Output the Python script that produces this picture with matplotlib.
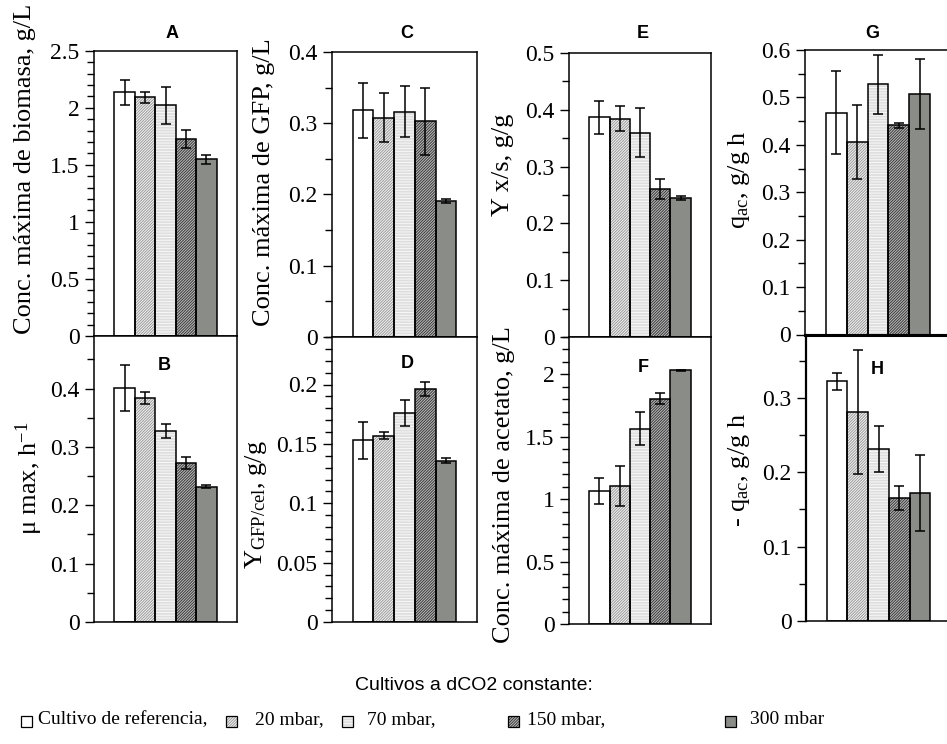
import matplotlib
matplotlib.use("Agg")
import matplotlib.pyplot as plt
from matplotlib.patches import Rectangle
from matplotlib.ticker import MultipleLocator, FuncFormatter

# ---- data ----------------------------------------------------------------
conditions = ["Cultivo de referencia,", "20 mbar,", "70 mbar,", "150 mbar,", "300 mbar"]

biomasa_max = [2.135, 2.09, 2.02, 1.725, 1.55]
biomasa_err = [0.11, 0.045, 0.165, 0.078, 0.04]

mu_max = [0.401, 0.384, 0.327, 0.272, 0.232]
mu_err = [0.04, 0.01, 0.012, 0.01, 0.003]

gfp_max = [0.318, 0.308, 0.316, 0.303, 0.191]
gfp_err = [0.039, 0.034, 0.036, 0.047, 0.003]

y_gfp_cel = [0.153, 0.157, 0.176, 0.196, 0.136]
y_gfp_cel_err = [0.0155, 0.003, 0.011, 0.006, 0.002]

y_xs = [0.387, 0.384, 0.360, 0.261, 0.245]
y_xs_err = [0.029, 0.022, 0.043, 0.018, 0.004]

acetato_max = [1.068, 1.108, 1.565, 1.805, 2.034]
acetato_err = [0.103, 0.159, 0.13, 0.045, 0.005]

q_ac = [0.468, 0.405, 0.528, 0.441, 0.508]
q_ac_err = [0.088, 0.078, 0.062, 0.006, 0.074]

q_ac_cons = [0.322, 0.281, 0.231, 0.165, 0.172]
q_ac_cons_err = [0.011, 0.083, 0.031, 0.016, 0.051]

# ---- style ---------------------------------------------------------------
plt.rcParams["font.family"] = ["Liberation Serif", "DejaVu Serif"]
plt.rcParams["mathtext.fontset"] = "custom"
plt.rcParams["mathtext.rm"] = "Liberation Serif"
plt.rcParams["mathtext.it"] = "Liberation Serif:italic"
plt.rcParams["hatch.linewidth"] = 0.7

# fill colour, hatch colour, hatch pattern for each condition
bar_styles = [
    ("white", "white", None),
    ("#f4f4f4", "#9a9a9a", "////////////"),
    ("#dedede", "#f8f8f8", "------"),
    ("#3a3a3a", "#bdbdbd", "////////////"),
    ("#8a8c88", "#8a8c88", None),
]

W, H = 947, 744
fig = plt.figure(figsize=(W / 100, H / 100), dpi=100)


def px_box(x0, x1, y0, y1):
    return [x0 / W, 1 - y1 / H, (x1 - x0) / W, (y1 - y0) / H]


def fx(x):
    return x / W


def fy(y):
    return 1 - y / H


fmt = FuncFormatter(lambda v, p: "%g" % round(v, 4))

panels = [
    # letter, values, errors, ylim top, major, minor, ylabel, box, ylabel pos, letter pos
    ("A", biomasa_max, biomasa_err, 2.5, 0.5, 0.1, "Conc. máxima de biomasa, g/L",
     (94, 237, 50.7, 336), (25, 169), (172, 33)),
    ("B", mu_max, mu_err, 0.49, 0.1, 0.05, r"μ max, h$^{\mathrm{-1}}$",
     (94, 237, 336, 622), (29, 478), (164, 366)),
    ("C", gfp_max, gfp_err, 0.4, 0.1, 0.05, "Conc. máxima de GFP, g/L",
     (332, 477, 52, 337), (264, 182), (407, 33)),
    ("D", y_gfp_cel, y_gfp_cel_err, 0.24, 0.05, 0.01, r"Y$_{\mathrm{GFP/cel}}$, g/g",
     (332, 477, 337, 622), (256, 505), (407, 363)),
    ("E", y_xs, y_xs_err, 0.5, 0.1, 0.05, "Y x/s, g/g",
     (569, 711, 53, 337), (503, 165), (643, 33)),
    ("F", acetato_max, acetato_err, 2.3, 0.5, 0.1, "Conc. máxima de acetato, g/L",
     (569, 711, 337, 624), (504, 485), (643, 367)),
    ("G", q_ac, q_ac_err, 0.6, 0.1, 0.05, r"q$_{\mathrm{ac}}$, g/g h",
     (805, 951, 50, 334.5), (739, 180), (872, 33)),
    ("H", q_ac_cons, q_ac_cons_err, 0.385, 0.1, 0.05, r"- q$_{\mathrm{ac}}$, g/g h",
     (806, 951, 334.5, 621), (739, 470), (877, 369)),
]

x = list(range(len(conditions)))

for (letter, vals, errs, ytop, major, minor, ylabel, bx, lpos, tpos) in panels:
    ax = fig.add_axes(px_box(*bx))
    for i, (v, (fc, hc, hatch)) in enumerate(zip(vals, bar_styles)):
        ax.bar(x[i], v, width=1.0, color=fc, edgecolor=hc, hatch=hatch,
               linewidth=0, zorder=2)
        ax.bar(x[i], v, width=1.0, fill=False, edgecolor="black",
               linewidth=1.1, zorder=3)
    ax.errorbar(x, vals, yerr=errs, fmt="none", ecolor="black",
                elinewidth=1.1, capsize=3.6, capthick=1.1, zorder=4)
    ax.set_xlim(-1.5, 5.5)
    ax.set_ylim(0, ytop)
    ax.set_xticks([])
    ax.yaxis.set_major_locator(MultipleLocator(major))
    ax.yaxis.set_minor_locator(MultipleLocator(minor))
    ax.yaxis.set_major_formatter(fmt)
    ax.tick_params(axis="y", which="major", direction="out", length=6.5,
                   width=1.0, labelsize=17, pad=4)
    ax.tick_params(axis="y", which="minor", direction="out", length=5,
                   width=1.0)
    for s in ax.spines.values():
        s.set_linewidth(1.1)
    if letter == "G":
        ax.spines["bottom"].set_linewidth(2.2)
    if letter == "H":
        ax.spines["top"].set_linewidth(2.2)
        ax.spines["left"].set_linewidth(1.6)
    fig.text(fx(lpos[0]), fy(lpos[1]), ylabel, rotation=90, fontsize=19,
             ha="center", va="center")
    fig.text(fx(tpos[0]), fy(tpos[1]), letter, fontsize=13, fontweight="bold",
             family=["Liberation Sans", "DejaVu Sans"], ha="center", va="center")

# ---- legend --------------------------------------------------------------
fig.text(fx(474), fy(686), "Cultivos a dCO2 constante:", fontsize=14,
         family=["Liberation Sans", "DejaVu Sans"], ha="center", va="center")

square_x = [21, 226, 342, 508, 725]
text_x = [38, 255, 367, 527, 750]
sq = 11
for (fc, hc, hatch), sx, tx, name in zip(bar_styles, square_x, text_x, conditions):
    fig.add_artist(Rectangle((fx(sx), fy(721 + sq / 2)), sq / W, sq / H,
                             transform=fig.transFigure, facecolor=fc,
                             edgecolor=hc, hatch=hatch, linewidth=0))
    fig.add_artist(Rectangle((fx(sx), fy(721 + sq / 2)), sq / W, sq / H,
                             transform=fig.transFigure, fill=False,
                             edgecolor="black", linewidth=0.9))
    fig.text(fx(tx), fy(720), name, fontsize=14, ha="left", va="center")

fig.savefig("out.png", dpi=100)
